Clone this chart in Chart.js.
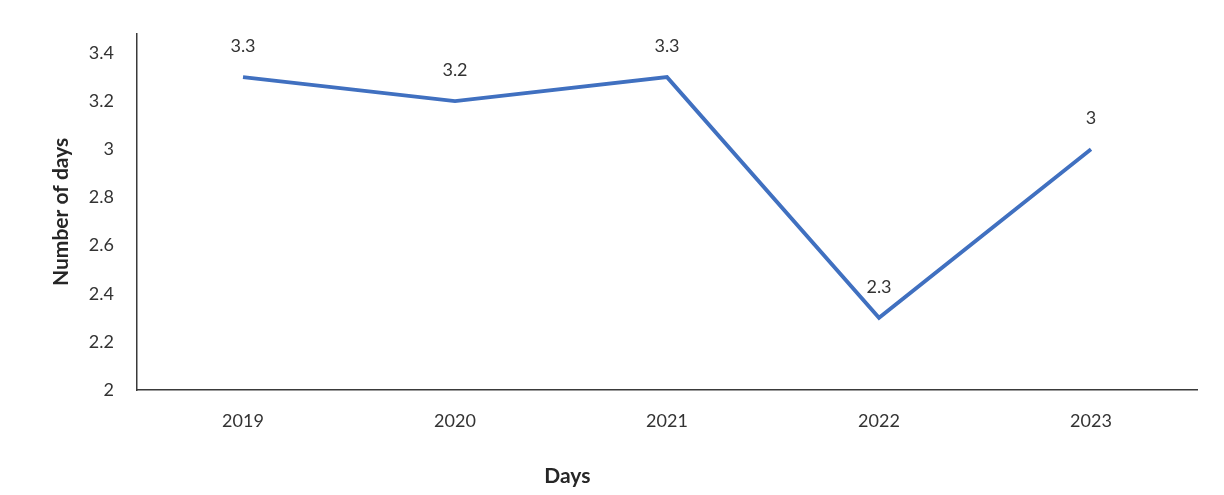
<!DOCTYPE html>
<html>
<head>
<meta charset="utf-8">
<script src="https://cdn.jsdelivr.net/npm/chart.js@4/dist/chart.umd.min.js"></script>
<style>
  html, body { margin: 0; padding: 0; background: #ffffff; }
  #wrap { width: 1224px; height: 495px; position: relative; }
</style>
</head>
<body>
<div id="wrap"><canvas id="c" width="1224" height="495"></canvas></div>
<script>
// Average number of days per year
const years = ['2019', '2020', '2021', '2022', '2023'];
const days = [3.3, 3.2, 3.3, 2.3, 3];
const dayLabels = ['3.3', '3.2', '3.3', '2.3', '3'];
const yTicks = [2, 2.2, 2.4, 2.6, 2.8, 3, 3.2, 3.4];
const xTitle = 'Days';
const yTitle = 'Number of days';

const FONT = 'Lato, "Open Sans", "DejaVu Sans", sans-serif';
const TEXT = '#333333';
const AXIS = '#3a3a3a';

// Writes the value above every point of the line
const valueLabels = {
  id: 'valueLabels',
  afterDatasetsDraw(chart) {
    const ctx = chart.ctx;
    const meta = chart.getDatasetMeta(0);
    ctx.save();
    ctx.font = '18px ' + FONT;
    ctx.fillStyle = TEXT;
    ctx.textAlign = 'center';
    ctx.textBaseline = 'middle';
    meta.data.forEach((pt, i) => {
      ctx.fillText(dayLabels[i], pt.x, pt.y - 31);
    });
    ctx.restore();
  }
};

// Horizontal axis caption, set slightly left of the plot centre
const bottomCaption = {
  id: 'bottomCaption',
  afterDraw(chart) {
    const a = chart.chartArea;
    const ctx = chart.ctx;
    ctx.save();
    ctx.font = 'bold 21px ' + FONT;
    ctx.fillStyle = '#262626';
    ctx.textAlign = 'center';
    ctx.textBaseline = 'middle';
    ctx.fillText(xTitle, a.left + (a.right - a.left) * 0.406, 476);
    ctx.restore();
  }
};

new Chart(document.getElementById('c'), {
  type: 'line',
  data: {
    labels: years,
    datasets: [{
      data: days,
      borderColor: '#4070C0',
      borderWidth: 3.8,
      pointRadius: 0,
      pointHoverRadius: 0,
      tension: 0,
      fill: false
    }]
  },
  options: {
    responsive: false,
    animation: false,
    events: [],
    layout: { padding: { top: 32, right: 27, left: 0, bottom: 0 } },
    plugins: {
      legend: { display: false },
      tooltip: { enabled: false },
      title: { display: false }
    },
    scales: {
      x: {
        offset: true,
        grid: { display: false, drawTicks: false },
        border: { display: true, color: AXIS, width: 1.5 },
        ticks: {
          color: TEXT,
          font: { family: FONT, size: 18 },
          padding: 20
        },
        afterFit(scale) { scale.height = 105; }
      },
      y: {
        min: 2,
        max: 3.48,
        grid: { display: false, drawTicks: false },
        border: { display: true, color: AXIS, width: 1.5 },
        afterBuildTicks(scale) {
          scale.ticks = yTicks.map(v => ({ value: v }));
        },
        ticks: {
          color: TEXT,
          font: { family: FONT, size: 18 },
          padding: 23,
          callback: v => String(Number(Number(v).toFixed(1)))
        },
        title: {
          display: true,
          text: yTitle,
          color: '#262626',
          font: { family: FONT, size: 21, weight: 'bold' },
          padding: { top: 49, bottom: 0 }
        },
        afterFit(scale) { scale.width = 137; }
      }
    }
  },
  plugins: [valueLabels, bottomCaption]
});
</script>
</body>
</html>
